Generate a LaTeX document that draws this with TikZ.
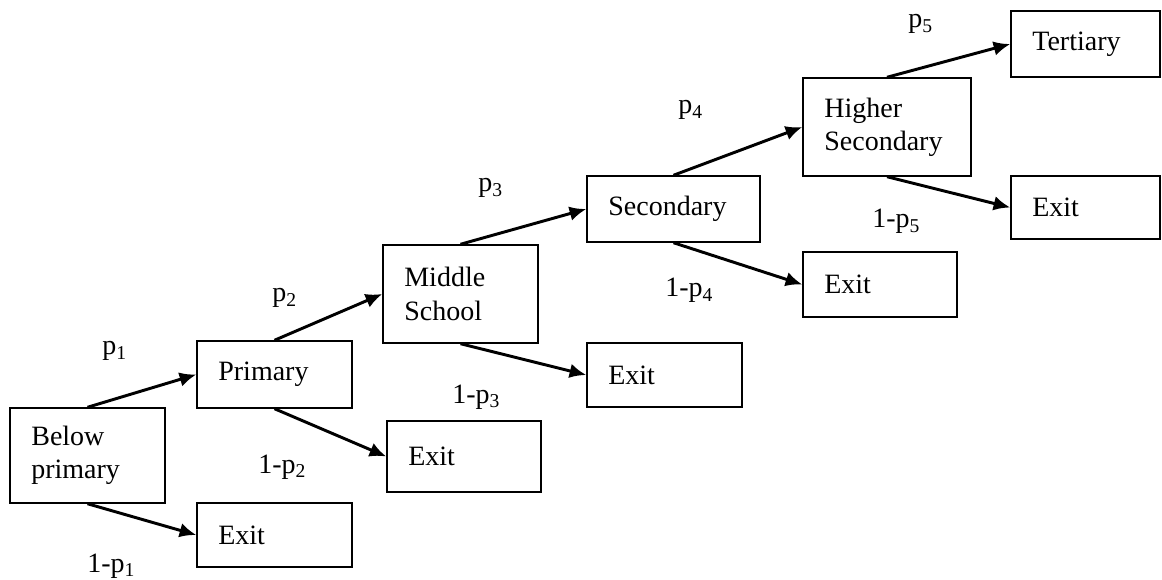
\documentclass[tikz,border=0pt]{standalone}
\usepackage{fontspec}
\setmainfont{Liberation Serif}
\usetikzlibrary{arrows.meta}

\begin{document}
\begin{tikzpicture}[>={Latex[length=12.5pt,width=11pt]}, x=0.75pt, y=-0.75pt]
        \tikzstyle{state} = [draw, line width=1.1pt, rectangle, inner xsep=16pt,
            inner ysep=0pt, align=left, font=\fontsize{21}{25}\selectfont]
        \tikzstyle{stateEdge} = [black, line width=2.2pt, ->];
        \tikzstyle{edgeLabel} = [anchor=base west, inner sep=0pt,
            font=\fontsize{21}{25}\selectfont];
        \useasboundingbox (0,0) rectangle (1162,580);

        % boxes
        \node[state, minimum height=71.25pt, text width=84.25pt] (nodeBelow)
            at (87.5,455.5) {Below\\primary};
        \node[state, minimum height=48pt, text width=84.25pt] (nodeExitA)
            at (274.5,535) {Exit};
        \node[state, minimum height=50.25pt, text width=84.25pt] (nodePrim)
            at (274.5,374.5) {Primary};
        \node[state, minimum height=53.25pt, text width=83.5pt] (nodeExitB)
            at (464,456.5) {Exit};
        \node[state, minimum height=73.5pt, text width=84.25pt] (nodeMid)
            at (460.5,294) {Middle\\School};
        \node[state, minimum height=48pt, text width=84.25pt] (nodeExitC)
            at (664.5,375) {Exit};
        \node[state, minimum height=49.5pt, text width=97.75pt] (nodeSec)
            at (673.5,209) {Secondary};
        \node[state, minimum height=48.75pt, text width=83.5pt] (nodeExitD)
            at (880,284.5) {Exit};
        \node[state, minimum height=73.5pt, text width=94pt] (nodeHigh)
            at (887,127) {Higher\\Secondary};
        \node[state, minimum height=49.5pt, text width=79.75pt] (nodeTert)
            at (1085.5,44) {Tertiary};
        \node[state, minimum height=47.25pt, text width=79.75pt] (nodeExitE)
            at (1085.5,207.5) {Exit};

        % transitions
        \draw (nodeBelow.north) edge[stateEdge] (nodePrim.west);
        \draw (nodeBelow.south) edge[stateEdge] (nodeExitA.west);
        \draw (nodePrim.north) edge[stateEdge] (nodeMid.west);
        \draw (nodePrim.south) edge[stateEdge] (nodeExitB.west);
        \draw (nodeMid.north) edge[stateEdge] (nodeSec.west);
        \draw (nodeMid.south) edge[stateEdge] (nodeExitC.west);
        \draw (nodeSec.north) edge[stateEdge] (nodeHigh.west);
        \draw (nodeSec.south) edge[stateEdge] (nodeExitD.west);
        \draw (nodeHigh.north) edge[stateEdge] (nodeTert.west);
        \draw (nodeHigh.south) edge[stateEdge] (nodeExitE.west);

        % probabilities
        \node[edgeLabel] (labP1) at (102,355) {p\textsubscript{1}};
        \node[edgeLabel] (labP2) at (272,302) {p\textsubscript{2}};
        \node[edgeLabel] (labP3) at (478,192) {p\textsubscript{3}};
        \node[edgeLabel] (labP4) at (678,114) {p\textsubscript{4}};
        \node[edgeLabel] (labP5) at (908,28) {p\textsubscript{5}};
        \node[edgeLabel] (labQ1) at (87,572) {1-p\textsubscript{1}};
        \node[edgeLabel] (labQ2) at (258,473) {1-p\textsubscript{2}};
        \node[edgeLabel] (labQ3) at (452,403) {1-p\textsubscript{3}};
        \node[edgeLabel] (labQ4) at (665,297) {1-p\textsubscript{4}};
        \node[edgeLabel] (labQ5) at (872,228) {1-p\textsubscript{5}};
    \end{tikzpicture}
\end{document}
